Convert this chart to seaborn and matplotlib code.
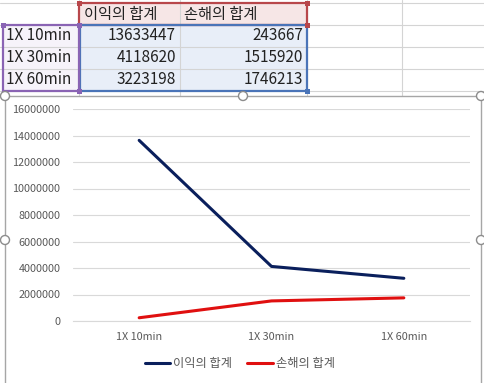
import pandas as pd
import matplotlib
matplotlib.use("Agg")
import matplotlib.pyplot as plt
from matplotlib.patches import Rectangle, Circle
import seaborn as sns

# ------------------------
# data (pivot table values)
categories = ["1X 10min", "1X 30min", "1X 60min"]
profit_sum = [13633447, 4118620, 3223198]
loss_sum = [243667, 1515920, 1746213]
series_names = ["이익의 합계", "손해의 합계"]
y_ticks = [0, 2000000, 4000000, 6000000, 8000000, 10000000, 12000000, 14000000, 16000000]

sns.set_theme(style="white")
plt.rcParams['font.family'] = ['Noto Sans CJK KR', 'DejaVu Sans']

df = pd.DataFrame({
    "구간": categories * 2,
    "값": profit_sum + loss_sum,
    "계열": [series_names[0]] * 3 + [series_names[1]] * 3,
})

W, H = 484, 383
fig = plt.figure(figsize=(W / 100, H / 100), dpi=100)
fig.patch.set_facecolor("white")

# background: spreadsheet cells (pixel coordinates)
bg = fig.add_axes([0, 0, 1, 1])
bg.set_xlim(0, W)
bg.set_ylim(H, 0)
bg.axis("off")

grid_c = "#d4d4d4"
row_edges = [3, 25, 47, 69, 91]
col_edges = [79, 180, 307, 402]
for y in row_edges:
    bg.plot([0, W], [y, y], color=grid_c, lw=0.8, zorder=1)
for x in col_edges:
    bg.plot([x, x], [0, 96], color=grid_c, lw=0.8, zorder=1)

# fills
bg.add_patch(Rectangle((79, 3), 228, 22, facecolor="#f6e6e6", edgecolor="none", zorder=0.5))
bg.add_patch(Rectangle((79, 25), 228, 66, facecolor="#e8eef8", edgecolor="none", zorder=0.5))
bg.add_patch(Rectangle((3, 25), 76, 66, facecolor="#f6f3fa", edgecolor="none", zorder=0.5))

# selection borders
bg.add_patch(Rectangle((79, 3), 228, 22, facecolor="none", edgecolor="#b8474b", lw=1.6, zorder=3))
bg.add_patch(Rectangle((80, 25), 227, 66, facecolor="none", edgecolor="#4a74b8", lw=1.6, zorder=3))
bg.add_patch(Rectangle((3, 25), 76, 66, facecolor="none", edgecolor="#8a64b4", lw=1.6, zorder=3))
for (x, y, c) in [(79, 3, "#b8474b"), (307, 3, "#b8474b"), (79, 25, "#b8474b"),
                  (307, 25, "#b8474b"), (3, 25, "#8a64b4"), (79, 25, "#8a64b4"),
                  (79, 91, "#8a64b4"), (307, 91, "#4a74b8")]:
    bg.add_patch(Rectangle((x - 2.5, y - 2.5), 5, 5, facecolor=c, edgecolor="none", zorder=4))

# cell text
bg.text(84, 14, series_names[0], fontsize=11, va="center", ha="left", color="#222222", zorder=5)
bg.text(184, 14, series_names[1], fontsize=11, va="center", ha="left", color="#222222", zorder=5)
for i, cat in enumerate(categories):
    yc = 36 + 22 * i
    bg.text(6, yc, cat, fontsize=11, va="center", ha="left", color="#222222", zorder=5)
    bg.text(176, yc, str(profit_sum[i]), fontsize=11, va="center", ha="right", color="#222222", zorder=5)
    bg.text(303, yc, str(loss_sum[i]), fontsize=11, va="center", ha="right", color="#222222", zorder=5)

# chart area
bg.add_patch(Rectangle((5, 96), 476, 300, facecolor="white", edgecolor="#a6a6a6", lw=1.0, zorder=6))
for (x, y) in [(5, 96), (243, 96), (481, 96), (5, 240), (481, 240)]:
    bg.add_patch(Circle((x, y), 4.5, facecolor="white", edgecolor="#8c8c8c", lw=1.0, zorder=7))

# ------------------------
# line chart
ax = fig.add_axes([73 / W, 1 - 321 / H, (470 - 73) / W, (321 - 109) / H])
ax.set_zorder(10)
ax.patch.set_alpha(0)
sns.lineplot(data=df, x="구간", y="값", hue="계열", ax=ax,
             palette=["#0a1f5c", "#e01010"], linewidth=2.2, sort=False)

ax.set_xlim(-0.5, 2.5)
ax.set_ylim(0, 16000000)
ax.set_yticks(y_ticks)
ax.set_yticklabels([str(v) for v in y_ticks])
ax.yaxis.grid(True, color="#d9d9d9", lw=0.8)
ax.set_axisbelow(True)
for s in ["top", "right", "left"]:
    ax.spines[s].set_visible(False)
ax.spines["bottom"].set_color("#d9d9d9")
ax.spines["bottom"].set_linewidth(0.8)
ax.tick_params(axis="both", length=0, labelsize=7.8, labelcolor="#595959")
ax.tick_params(axis="y", pad=9)
ax.tick_params(axis="x", pad=8)
ax.set_xlabel("")
ax.set_ylabel("")

handles, labels = ax.get_legend_handles_labels()
ax.legend(handles, labels, loc="center", bbox_to_anchor=(0.42, -0.2), ncol=2,
          frameon=False, fontsize=8.8, handlelength=2.1, columnspacing=1.2,
          handletextpad=0.25, labelcolor="#595959")

fig.savefig("out.png", dpi=100)
